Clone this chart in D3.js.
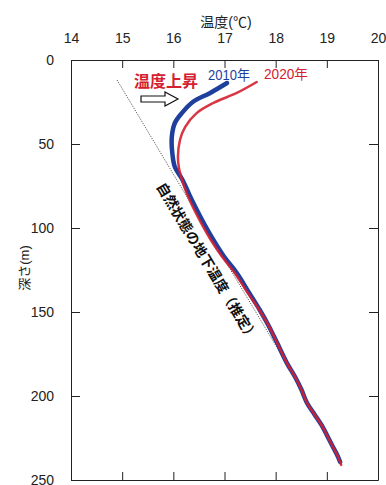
<!DOCTYPE html>
<meta charset="utf-8">
<head>
  <title>地下温度</title>
</head>
<style>
    body { margin: 0; background: #fff; }
    svg text { font-family: "Liberation Sans", Arial, "Noto Sans CJK JP", sans-serif; }
    .axis path, .axis line { stroke: #222; stroke-width: 1px; }
    .axis text { font-size: 14px; fill: #222; }
</style>
<body>
<svg id="chart" width="386" height="485"></svg>
<script src="https://cdn.jsdelivr.net/npm/d3@7"></script>
<script>
    // temperature (deg C) ticks and depth (m) ticks
    var tempTicks = [14, 15, 16, 17, 18, 19, 20];
    var depthTicks = [0, 50, 100, 150, 200, 250];

    // 2010 profile: depth (m), temperature (deg C)
    var depth2010 = [13.7, 19.6, 25, 31.5, 37.5, 45.8, 55.4, 63.7, 71.4, 80, 89.3, 98, 107, 117, 126.8, 138, 148.8, 158, 168.5, 180.4, 188.7, 196, 204, 211, 218.5, 225, 230.4, 235, 239.3];
    var temp2010 = [17.05, 16.72, 16.38, 16.17, 16.03, 15.97, 15.98, 16.03, 16.18, 16.31, 16.46, 16.61, 16.78, 16.99, 17.24, 17.47, 17.69, 17.86, 18.03, 18.22, 18.38, 18.5, 18.61, 18.76, 18.92, 19.03, 19.12, 19.2, 19.26];

    // 2020 profile
    var depth2020 = [13.1, 19.6, 25.6, 31.5, 39.9, 47.6, 57.7, 64.3, 71.4, 80, 89.3, 98, 107, 117, 126.8, 138, 148.8, 158, 168.5, 180.4, 188.7, 196, 204, 211, 218.5, 225, 230.4, 235, 241];
    var temp2020 = [17.63, 17.24, 16.78, 16.46, 16.23, 16.13, 16.09, 16.11, 16.17, 16.27, 16.41, 16.56, 16.73, 16.95, 17.2, 17.44, 17.68, 17.86, 18.03, 18.22, 18.38, 18.5, 18.61, 18.76, 18.92, 19.03, 19.12, 19.2, 19.28];

    // estimated natural-state geotherm
    var naturalDepth = [11.9, 180];
    var naturalTemp = [14.9, 18.2];

    var svg = d3.select("#chart");
    var plotLeft = 71, plotRight = 378, plotTop = 60, plotBottom = 480;

    var x = d3.scaleLinear().domain([14, 20]).range([plotLeft, plotRight]);
    var y = d3.scaleLinear().domain([0, 250]).range([plotTop, plotBottom]);

    // axes - ticks point inward
    svg.append("g").attr("class", "axis")
        .attr("transform", "translate(0," + plotTop + ")")
        .call(d3.axisTop(x).tickValues(tempTicks).tickFormat(d3.format("d"))
            .tickSizeInner(-8).tickSizeOuter(0).tickPadding(17));

    svg.append("g").attr("class", "axis")
        .attr("transform", "translate(0," + plotBottom + ")")
        .call(d3.axisBottom(x).tickValues(tempTicks).tickSizeInner(-8).tickSizeOuter(0).tickFormat(""));

    svg.append("g").attr("class", "axis")
        .attr("transform", "translate(" + plotLeft + ",0)")
        .call(d3.axisLeft(y).tickValues(depthTicks).tickFormat(d3.format("d"))
            .tickSizeInner(-9).tickSizeOuter(0).tickPadding(17));

    svg.append("g").attr("class", "axis")
        .attr("transform", "translate(" + plotRight + ",0)")
        .call(d3.axisRight(y).tickValues(depthTicks).tickSizeInner(-9).tickSizeOuter(0).tickFormat(""));

    svg.selectAll(".axis .domain").attr("stroke", "#222");

    // axis titles
    svg.append("text")
        .attr("x", 226).attr("y", 27)
        .attr("text-anchor", "middle")
        .style("font-size", "14px").attr("fill", "#222")
        .text("温度(℃)");

    svg.append("text")
        .attr("transform", "translate(29,268) rotate(-90)")
        .attr("text-anchor", "middle")
        .style("font-size", "13px").attr("fill", "#222")
        .text("深さ(m)");

    // natural geotherm (dotted)
    var line = d3.line().x(function(d) { return x(d[0]); }).y(function(d) { return y(d[1]); });

    svg.append("path")
        .datum(naturalTemp.map(function(t, i) { return [t, naturalDepth[i]]; }))
        .attr("d", line)
        .attr("fill", "none")
        .attr("stroke", "#444")
        .attr("stroke-width", 0.9)
        .attr("stroke-dasharray", "1.2 1.3");

    var curve = d3.line().curve(d3.curveCatmullRom)
        .x(function(d) { return x(d[0]); }).y(function(d) { return y(d[1]); });

    svg.append("path")
        .datum(temp2010.map(function(t, i) { return [t, depth2010[i]]; }))
        .attr("d", curve)
        .attr("fill", "none")
        .attr("stroke", "#1e3f9c")
        .attr("stroke-width", 4.5)
        .attr("stroke-linecap", "round");

    svg.append("path")
        .datum(temp2020.map(function(t, i) { return [t, depth2020[i]]; }))
        .attr("d", curve)
        .attr("fill", "none")
        .attr("stroke", "#d42030")
        .attr("stroke-width", 2.5)
        .attr("stroke-opacity", 0.9)
        .attr("stroke-linecap", "round");

    // labels
    svg.append("text")
        .attr("x", 229).attr("y", 80)
        .attr("text-anchor", "middle")
        .attr("fill", "#1e3f9c")
        .attr("textLength", 42).attr("lengthAdjust", "spacingAndGlyphs")
        .style("font-size", "14px")
        .text("2010年");

    svg.append("text")
        .attr("x", 286).attr("y", 79)
        .attr("text-anchor", "middle")
        .attr("fill", "#d42030")
        .attr("textLength", 44).attr("lengthAdjust", "spacingAndGlyphs")
        .style("font-size", "14px")
        .text("2020年");

    svg.append("text")
        .attr("x", 166).attr("y", 87)
        .attr("text-anchor", "middle")
        .attr("fill", "#d42030")
        .style("font-size", "16px").style("font-weight", "bold")
        .text("温度上昇");

    // outlined arrow
    var ax = 141, ay = 99;
    svg.append("path")
        .attr("d", "M" + ax + "," + (ay - 3) + "H" + (ax + 24) + "V" + (ay - 7) + "L" + (ax + 37) + "," + ay +
                   "L" + (ax + 24) + "," + (ay + 7) + "V" + (ay + 3) + "H" + ax + "Z")
        .attr("fill", "#fff")
        .attr("stroke", "#111")
        .attr("stroke-width", 1.2);

    // rotated label along geotherm
    svg.append("text")
        .attr("transform", "translate(207,262) rotate(59)")
        .attr("text-anchor", "middle")
        .attr("dy", "0.35em")
        .attr("fill", "#111")
        .style("font-size", "14px").style("font-weight", "bold")
        .text("自然状態の地下温度（推定）");
</script>
</body>
